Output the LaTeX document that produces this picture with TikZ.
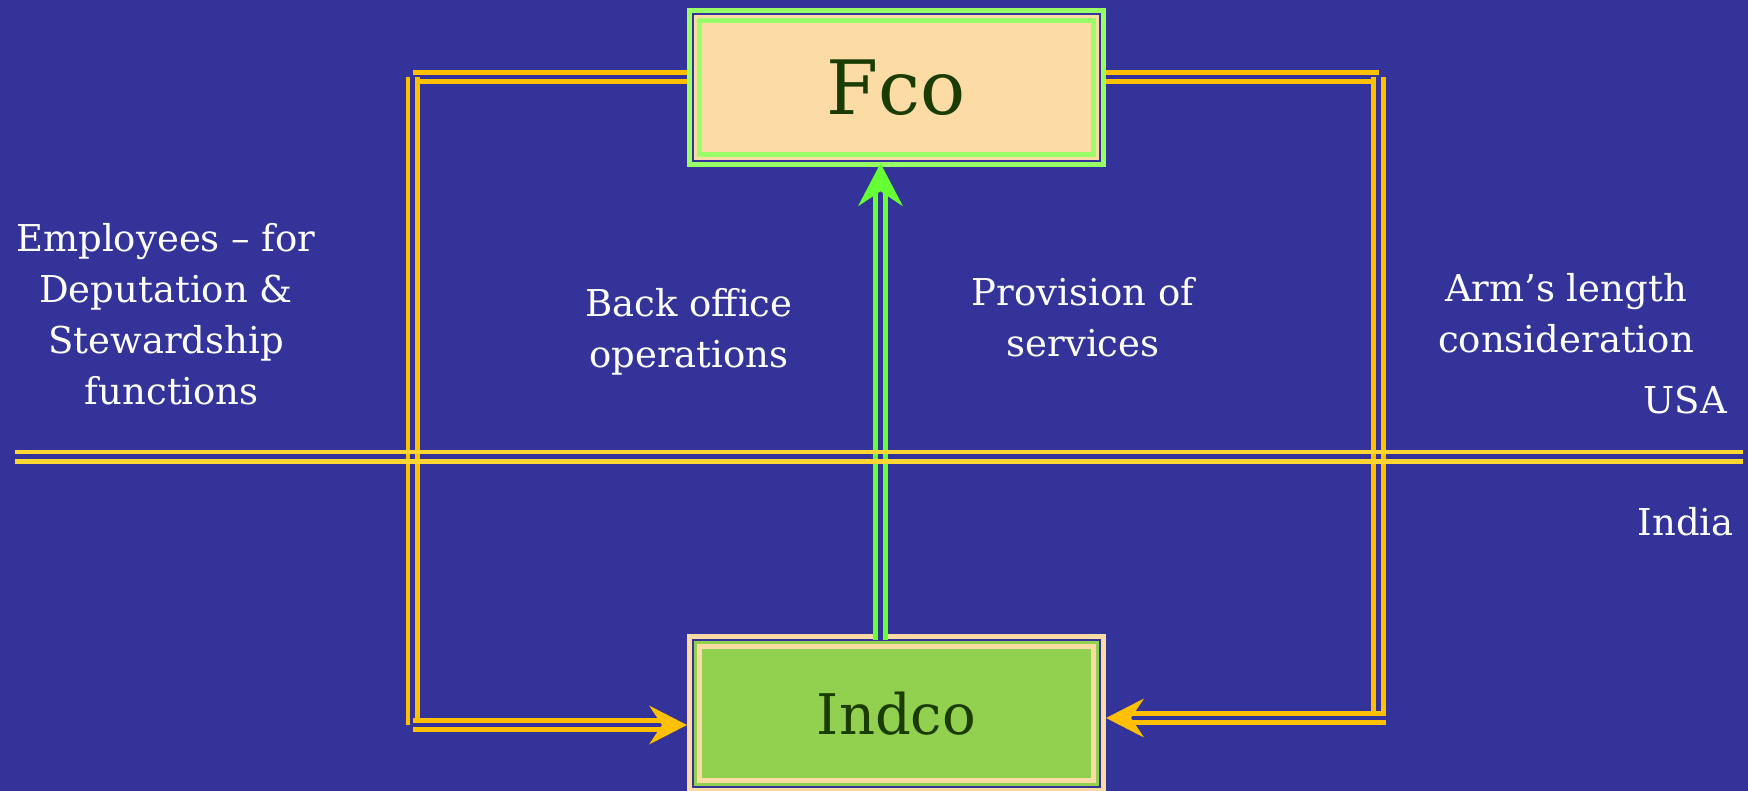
\documentclass[tikz,border=0pt]{standalone}
\usepackage{fontspec}
\setmainfont{DejaVu Serif}
\usetikzlibrary{arrows.meta,positioning}
\definecolor{bg}{HTML}{333399}
\definecolor{peach}{HTML}{FCDBA5}
\definecolor{lime}{HTML}{99FF66}
\definecolor{leaf}{HTML}{92D050}
\definecolor{amber}{HTML}{FFC000}
\definecolor{border}{HTML}{FFD633}
\definecolor{arrowgreen}{HTML}{66FF33}
\definecolor{ink}{HTML}{1A3C00}

\begin{document}
\begin{tikzpicture}[%
        x=1pt, y=-1pt,
        box/.style 2 args={rectangle, fill=#2, draw=#1, line width=4.7pt,
          minimum width=394.4pt, minimum height=134.4pt, inner sep=0pt, outer sep=12.3pt,
          text=ink, preaction={draw=#1, line width=24.6pt},
          preaction={draw=bg, line width=14pt}, preaction={draw=#2, line width=10pt}},
        note/.style={text=white, font=\fontsize{37pt}{50.8pt}\selectfont,
          align=center, inner sep=0pt, anchor=base},
        link/.style={draw=amber, line width=4.7pt, double=bg, double distance=4.7pt},
        divide/.style={draw=border, line width=4.3pt},
        >={Stealth[length=38pt, width=39pt, inset=13pt, line width=0pt]}
      ]
      \useasboundingbox (0,0) rectangle (1748,791);
      \fill [bg] (0,0) rectangle (1748,791);
      % the two boxes
      \node [box={lime}{peach}] (fco) at (896.5,87.5) {\fontsize{75pt}{84pt}\selectfont\raisebox{-2.5pt}{Fco}};
      \node [box={peach}{leaf}] (indco) [below=467pt of fco] {\fontsize{56pt}{64pt}\selectfont Indco};
      % texts (base = last line)
      \node [note] (staff) at (166,404) {Employees -- for\\Deputation \&\\Stewardship\\\ functions};
      \node [note] (back) at (689,367.3) {Back office\\operations};
      \node [note] (serv) at (1083,356.5) {Provision of\\services};
      \node [note] (arm) at (1566,352.5) {Arm’s length\\consideration};
      \node [note, anchor=base east] (usa) at (1727,413.3) {USA};
      \node [note, anchor=base east] (india) at (1734,535.7) {India};
      % corners of the outer connectors
      \coordinate (lt) at (412.7,77);
      \coordinate (lb) at (412.7,725);
      \coordinate (rt) at (1378.5,77);
      \coordinate (rb) at (1378.5,724.3);
      \coordinate (rb2) at (1385.7,718);
      \draw [link] (lt) -- (lt -| fco.west);
      \draw [link] (lt) -- (lb);
      \draw [link, ->] (lb) -- (lb -| indco.west);
      \draw [link] (rt) -- (rt -| fco.east);
      \draw [link] (rt) -- (rb);
      \draw [link, ->] (rb2) -- (rb2 -| indco.east);
      \draw [draw=arrowgreen, line width=5pt, double=bg, double distance=4.7pt,
        shorten <=-6pt, shorten >=-3.7pt,
        -{Stealth[length=43pt, width=45pt, inset=15pt, line width=0pt]}]
        ([xshift=-16pt]indco.north) -- ([xshift=-16pt]fco.south);
      % border between the countries
      \coordinate (d1) at (15,452.2);
      \coordinate (d2) at (1743,452.2);
      \coordinate (d3) at (15,461.5);
      \coordinate (d4) at (1743,461.5);
      \draw [divide] (d1) -- (d2);
      \draw [divide] (d3) -- (d4);
    \end{tikzpicture}
\end{document}
